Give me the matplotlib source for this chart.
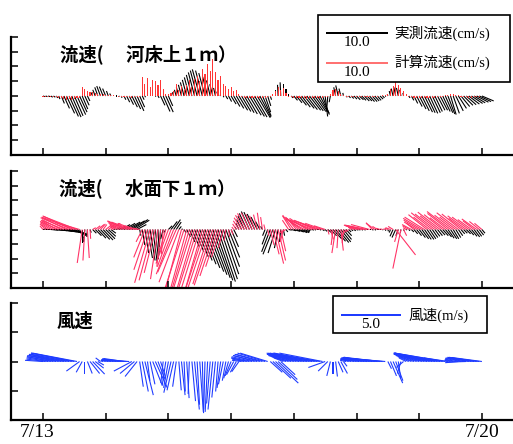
import numpy as np
import matplotlib
matplotlib.use("Agg")
import matplotlib.pyplot as plt
from matplotlib.patches import Rectangle
import matplotlib.transforms as mtransforms

# ---------------- data (hourly, 7/13 00:00 -> 7/20 00:00) ----------------
hours = list(range(0, 169))
day_ticks = [0, 24, 48, 72, 96, 120, 144, 168]
day_labels = ["7/13", "", "", "", "", "", "", "7/20"]

# panel 1 : measured current 1 m above bed (cm/s)
bed_obs_u = [
    0.3, 0.3, 0.3, 0.3, 0.3, 0.3,
    0.2, 0.5, 0.9, 1.3, 1.5, 1.5, 1.4, 1.4, 1.2, 0.9, 0.7, 0.4,
    -0.1, -0.3, -0.4, -0.5, -0.6, -0.6, -0.5, -0.3, -0.2,
    0.0, 0.1, 0.1,
    0.1, 0.3, 0.5, 0.7, 0.9, 1.0, 1.1, 0.8,
    0.3, 0.1, 0.0, 0.0, 0.0, 0.1, 0.2,
    0.7, 1.1, 1.2, 0.7,
    -0.1, -0.2, -0.3, -0.4, -0.5, -0.6, -0.7, -0.8, -0.9, -1.0, -1.1, -1.2, -1.1, -1.0, -0.8, -0.6, -0.5, -0.3, -0.2, -0.1,
    0.1, 0.3, 0.5, 0.8, 1.0, 1.2, 1.4, 1.5, 1.6, 1.7, 1.9, 2.0, 2.0, 2.1, 1.8, 1.4, 0.9, 0.5, 0.2,
    0.0, 0.0, -0.1, -0.1, 0.0, 0.0, 0.0,
    0.3, 0.6, 0.9, 1.2, 1.4, 1.6, 1.7, 1.8, 1.8, 1.8, 1.7, 1.5, 1.1, 0.4, -0.2, -0.2,
    -0.1, -0.3, -0.4, -0.3, -0.1,
    0.2, 0.3, 0.4, 0.5, 0.6, 0.7, 0.7, 0.8, 0.8, 0.8, 0.8, 0.7, 0.6, 0.5, 0.3, 0.1,
    -0.1, -0.2, -0.3, -0.3, -0.3, -0.2, -0.1, 0.0,
    0.2, 0.4, 0.6, 0.9, 1.1, 1.2, 1.3, 1.3, 1.3, 1.3, 1.2, 1.2, 1.2, 1.2, 1.2, 1.1, 0.9, 1.0, 1.2, 1.3, 1.4, 1.5, 1.6, 1.7, 1.8, 1.8, 1.9, 1.9, 1.9,
]
bed_obs_v = [
    -0.1, -0.1, -0.1, -0.2, -0.2, -0.3,
    -0.5, -1.2, -2.0, -2.8, -3.3, -3.4, -3.2, -3.0, -2.6, -2.1, -1.5, -0.8,
    0.2, 0.6, 1.0, 1.4, 1.6, 1.5, 1.2, 0.8, 0.4,
    0.1, 0.0, -0.1,
    -0.3, -0.6, -1.0, -1.4, -1.8, -2.1, -2.4, -1.8,
    -0.6, -0.2, 0.0, 0.0, 0.0, -0.1, -0.3,
    -1.5, -2.5, -2.6, -1.6,
    0.3, 0.6, 1.0, 1.4, 1.8, 2.2, 2.6, 3.0, 3.4, 3.8, 4.1, 4.3, 4.1, 3.7, 3.1, 2.5, 1.9, 1.3, 0.7, 0.2,
    -0.2, -0.5, -0.9, -1.3, -1.7, -2.0, -2.3, -2.5, -2.7, -2.9, -3.1, -3.3, -3.4, -3.5, -3.4, -3.2, -2.6, -1.6, -0.6,
    0.4, 1.0, 1.8, 2.2, 2.0, 1.2, 0.4,
    -0.3, -0.7, -1.1, -1.5, -1.8, -2.0, -2.2, -2.3, -2.4, -2.5, -2.6, -2.8, -3.0, -3.3, -2.5, -1.0,
    0.6, 1.4, 1.7, 1.2, 0.5,
    -0.2, -0.3, -0.4, -0.5, -0.6, -0.6, -0.7, -0.8, -0.8, -0.9, -0.9, -0.8, -0.7, -0.5, -0.3, -0.1,
    0.3, 0.8, 1.2, 1.4, 1.3, 1.0, 0.5, 0.1,
    -0.3, -0.7, -1.2, -1.7, -2.1, -2.4, -2.6, -2.7, -2.8, -2.7, -2.5, -2.3, -2.3, -2.5, -2.7, -2.9, -3.0, -2.8, -2.4, -2.0, -1.7, -1.5, -1.4, -1.3, -1.2, -1.1, -1.0, -0.9, -0.8,
]

# panel 1 : computed current 1 m above bed (cm/s) - drawn as vertical sticks
bed_calc_v = [
    -0.1, -0.1, -0.1, -0.1, -0.2, -0.2,
    -0.3, -0.4, -0.5, -0.6, -0.5, -0.6, -0.5, -0.4, -0.3,
    1.4, 1.2, 0.8, 0.6, 0.7,
    0.5, 0.4, 0.3, 0.3, 0.2, 0.2, 0.1, 0.1,
    0.0, -0.1, -0.1, -0.2, -0.2, -0.2, -0.3, -0.2, -0.2, -0.1,
    3.0, 2.0, 2.9, 1.5, 2.6, 2.4, 1.8, 2.5, 1.2,
    0.4, 0.3, 0.5,
    0.8, 2.0, 1.0, 1.6, 1.2, 1.8, 2.6, 1.5, 2.8, 3.3, 2.4, 4.3, 3.5, 5.1, 4.0, 6.0, 3.8, 2.6, 3.2, 2.0, 1.6, 1.2, 1.5, 0.8, 1.0, 0.4,
    -0.2, -0.3, -0.3, -0.4, -0.4, -0.4, -0.4, -0.4, -0.3, -0.3, -0.2, -0.1,
    0.3, 0.8, 1.4, 1.0, 1.3, 0.5,
    -0.1, -0.2, -0.3, -0.3, -0.4, -0.4, -0.4, -0.5, -0.4, -0.4, -0.4, -0.3, -0.3, -0.3, -0.2, -0.1,
    0.3, 0.9, 1.1, 0.8, 0.4, 0.2,
    -0.1, -0.1, -0.1, -0.1, -0.1, -0.1, -0.1, -0.1, -0.1, -0.1, -0.1, -0.1, -0.1, 0.0, 0.1, 0.2,
    0.4, 1.2, 1.6, 2.2, 1.8, 1.3, 0.8, 0.3,
    -0.1, -0.2, -0.3, -0.3, -0.4, -0.4, -0.4, -0.3, -0.3, -0.3, -0.3, -0.2, -0.2, -0.1, 0.1, 0.2, 0.3, 0.3, 0.2, 0.1, -0.1, -0.2, -0.2, -0.3, -0.3, -0.2, -0.2, -0.1, 0.0,
]

# panel 2 : measured current 1 m below surface (cm/s)
sfc_obs_u = [
    0.5, 0.8, 1.0, 1.2, 1.5, 1.8,
    2.2, 2.5, 2.8, 3.0, 2.8, 2.4, 2.0, 1.5,
    0.6, 0.0, -0.2, -0.1, 0.2,
    0.6, 1.0, 1.3, 1.5, 1.6, 1.5, 1.2, 0.8,
    0.3, 0.6, 1.0, 1.4, 1.8, 2.2, 2.5, 2.6, 2.4, 1.5,
    0.2, 0.4, 0.6, 0.8, 0.8, 0.7, 0.5, 0.2, -0.2, -0.4, -0.3,
    0.6, 1.0, 1.1, 0.8, 0.4, 0.2,
    0.3, 0.6, 0.9, 1.2, 1.5, 1.8, 2.0, 2.2, 2.4, 2.6, 2.7, 2.8, 2.8, 2.8, 2.7, 2.5, 2.2, 1.8, 1.2, 0.6,
    -0.2, -0.5, -0.8, -1.0, -1.2, -1.3, -1.3, -1.2, -1.0, -0.7, -0.3,
    -0.4, -0.9, -1.4, -1.6, -1.2, -0.6, -0.2, 0.2, 0.3,
    0.5, 0.8, 1.0, 1.2, 1.3, 1.2, 0.9, 0.5,
    0.3, 0.3, 0.2, 0.2, 0.2, 0.3, 0.3,
    0.6, 1.0, 1.4, 1.6, 1.7, 1.6, 1.3, 0.9, 0.4,
    0.3, 0.3, 0.3, 0.2, 0.2, 0.2, 0.2, 0.2, 0.2, 0.2, 0.2, 0.2, 0.1, 0.1, 0.1,
    -0.2, -0.5, -0.6, -0.4, -0.1, 0.1,
    0.1, 0.2, 0.4, 0.6, 0.8, 1.0, 1.1, 1.1, 1.1, 1.0, 0.9, 0.8, 0.8, 0.8, 0.9, 1.0, 1.0, 1.0, 0.9, 0.8, 0.7, 0.6, 0.6, 0.7, 0.8, 0.9, 0.9, 0.8, 0.7, 0.5,
]
sfc_obs_v = [
    0.1, 0.0, 0.0, -0.1, -0.1, -0.2,
    -0.3, -0.4, -0.5, -0.6, -0.7, -0.8, -0.9, -1.0,
    -1.4, -2.2, -2.0, -1.2, -0.5,
    -0.6, -1.0, -1.4, -1.6, -1.7, -1.5, -1.1, -0.6,
    0.1, 0.3, 0.5, 0.8, 1.0, 1.2, 1.4, 1.6, 1.5, 0.8,
    -1.0, -2.5, -3.8, -4.6, -5.0, -5.1, -4.8, -4.0, -2.8, -1.5, -0.5,
    0.6, 1.3, 1.6, 1.2, 0.5, 0.1,
    -0.5, -1.2, -2.0, -2.8, -3.6, -4.4, -5.0, -5.6, -6.2, -6.8, -7.3, -7.8, -8.2, -8.4, -8.0, -7.2, -6.0, -4.5, -2.8, -1.2,
    0.4, 1.0, 1.6, 2.2, 2.6, 2.9, 2.8, 2.5, 2.0, 1.3, 0.5,
    -1.0, -2.4, -3.6, -4.0, -3.8, -3.0, -2.0, -1.0, -0.4,
    -0.1, -0.2, -0.3, -0.4, -0.5, -0.5, -0.4, -0.2,
    -0.1, -0.1, -0.1, 0.0, -0.1, -0.2, -0.3,
    -0.5, -1.0, -1.5, -1.9, -2.1, -2.0, -1.6, -1.0, -0.4,
    -0.2, -0.2, -0.1, -0.1, -0.1, -0.1, 0.0, 0.0, -0.1, -0.1, 0.0, 0.0, -0.1, -0.2, -0.3,
    -0.5, -1.1, -1.3, -1.0, -0.5, -0.2,
    -0.1, -0.2, -0.4, -0.7, -1.0, -1.3, -1.5, -1.6, -1.6, -1.5, -1.3, -1.1, -1.0, -0.9, -1.0, -1.2, -1.4, -1.5, -1.5, -1.3, -1.0, -0.7, -0.6, -0.7, -0.9, -1.1, -1.2, -1.1, -0.9, -0.6,
]

# panel 2 : computed current 1 m below surface (cm/s)
sfc_calc_u = [
    -0.5, -0.9, -1.1, -1.7, -2.0, -2.3, -3.0, -3.1, -3.7, -3.9, -4.6, -4.7, -5.3, -5.4, -3.8,
    -0.8, -0.3, 0.3, 0.1,
    0.5, 0.8, 1.0, 0.8, 0.6, 0.9, 1.2, 1.5,
    -0.5, -1.0, -1.5, -2.1, -2.4, -3.1, -3.5, -3.3, -2.7, -2.0, -1.0,
    -1.0, -1.8, -2.2, -2.5, -2.2, -1.8, -1.2, -0.6, -0.3, -1.0, -2.0,
    -2.2, -2.8, -3.0, -3.2, -2.6, -3.4, -3.0, -2.8, -3.6, -3.2, -3.8, -3.5, -3.0, -3.6, -3.2, -2.8, -3.0, -2.5, -2.0, -1.5, -0.8, -0.3, 0.2, 0.3,
    -0.3, -0.6, -0.9, -1.2, -1.4, -1.5, -1.3, -1.0, -0.8, -0.6, -0.4, -0.3, -0.2,
    0.2, 0.6, 1.0, 1.3, 1.2, 0.8, -0.5, -1.0,
    -1.0, -1.4, -1.8, -1.5, -2.2, -2.6, -3.0, -2.8, -3.4, -3.6, -3.2, -3.8, -3.5, -2.8, -1.8,
    0.2, 0.5, -0.3, -0.6, -0.2, 0.4, -0.2, -0.8, -0.5,
    -0.5, -1.0, -1.6, -2.2, -2.8, -3.3, -3.5, -3.0, -1.0, -1.4, -0.8,
    -0.6, -0.4, -0.3, -0.5, -0.8,
    -0.8, 3.2, -0.6, -1.3, 0.5,
    -0.5, -1.0, -1.5, -1.2, -2.0, -2.5, -3.0, -3.2,
    -3.0, -2.6, -3.4, -3.2, -2.8, -3.6, -3.0, -2.5, -3.3, -3.8, -3.0, -2.6, -3.5, -3.1, -2.4, -3.0, -2.7, -2.2, -1.8, -2.4, -1.6, -1.2,
]
sfc_calc_v = [
    0.6, 0.9, 0.8, 1.1, 1.2, 1.4, 1.3, 1.6, 1.5, 1.9, 1.9, 2.2, 2.0, 2.1, 1.1,
    -5.4, -5.0, -4.6, -1.5,
    0.3, 0.6, 0.8, 0.9, 0.8, 0.7, 0.9, 1.0,
    0.5, 0.7, 0.9, 1.1, 1.2, 1.4, 1.3, 1.2, 1.0, 0.6, 0.2,
    -2.0, -4.5, -6.5, -8.6, -8.2, -7.0, -8.0, -6.0, -4.0, -3.5, -5.5,
    -6.0, -7.2, -6.9, -8.5, -9.8, -10.5, -11.0, -9.6, -11.5, -10.8, -12.0, -11.2, -10.5, -11.0, -9.5, -8.8, -9.0, -7.5, -6.0, -4.5, -3.0, -1.8, -1.2, -0.8,
    0.4, 0.9, 1.4, 1.9, 2.3, 2.6, 2.7, 2.5, 2.2, 2.4, 2.7, 2.0, 0.8,
    -1.0, -2.5, -4.0, -5.5, -5.0, -3.5, -2.0, -0.5,
    1.5, 2.2, 2.3, 1.8, 2.0, 1.9, 1.7, 1.8, 1.6, 1.5, 1.4, 1.5, 1.2, 1.0, 0.6,
    -0.8, -1.6, -2.5, -3.8, -3.0, -3.4, -2.2, -1.2, -0.4,
    0.4, 0.5, 0.6, 0.6, 0.7, 0.7, 0.7, 0.8, 1.1, 1.0, 0.5,
    0.2, 0.1, 0.1, 0.2, 0.3,
    0.5, -4.1, -2.0, -6.3, -1.0,
    0.3, 0.6, 0.8, 1.0, 1.2, 1.5, 1.8, 2.0,
    2.4, 2.0, 2.7, 2.5, 2.2, 2.8, 2.4, 1.9, 2.6, 2.9, 2.3, 2.0, 2.7, 2.5, 1.8, 2.2, 2.0, 1.6, 1.4, 1.7, 1.3, 1.0,
]

# panel 3 : wind (m/s)
wind_u = [
    -1.5, -1.6, -1.8, -2.0, -2.2, -2.4, -2.5, -2.7, -2.9, -3.0, -3.2, -3.4, -3.6, -3.7,
    -1.1, -0.5, 0.0, 0.4, 0.8, 1.0, 0.7, 0.5, -0.4,
    -0.2, -0.4, -0.5, -0.8, -1.0, -1.1, -1.4, -1.6, -1.7, -2.0, -2.2,
    -1.5, -1.2, -1.0, 0.3, 0.5, 0.7, 0.2, 0.4, 0.8, 1.0, 0.6, 0.4, -0.2, -0.3, -0.4, -0.6, -0.55, -0.3,
    0.2, 0.3, 0.1, 0.2, -0.1, 0.3, 0.4, 0.2, 0.3, 0.1, -0.1, -0.2, -0.3, -0.4, -0.3, -0.2, -0.3, -0.4,
    -0.3, -0.4, -0.5, -0.6, -0.5, -0.6,
    -0.8, -1.0, -1.3, -1.5, -1.7, -1.8, -2.0, -2.1, -2.2, -2.3, -2.3,
    1.0, 1.5, 1.9, 1.6, 1.2,
    -0.8, -1.2, -1.6, -1.9, -2.2, -2.4, -2.7, -2.9, -3.0, -3.2, -3.3, -3.4, -3.5, -3.6, -3.6, -3.6,
    -1.4, -0.8, -0.3, 0.0, 0.15, 0.4, 0.55, 0.3,
    -0.5, -0.7, -0.9, -1.1, -1.3, -1.4, -1.6, -1.8, -2.0, -2.2, -2.4, -2.6, -2.8, -3.0, -3.3, -3.6,
    0.3, 0.5, 0.8, 0.6, 0.2, -0.3, -0.6,
    -0.6, -0.9, -1.2, -1.5, -1.8, -2.0, -2.3, -2.5, -2.8, -3.0, -3.2, -3.4, -3.6, -3.8, -4.0, -4.2, -2.0,
    -0.5, -0.7, -0.9, -1.1, -1.3, -1.5, -1.7, -1.8, -2.0, -2.1, -2.3, -2.4, -2.5,
]
wind_v = [
    0.1, 0.2, 0.3, 0.4, 0.4, 0.5, 0.5, 0.6, 0.5, 0.6, 0.6, 0.7, 0.7, 0.7,
    -0.8, -0.9, -1.0, -1.0, -1.0, -1.05, -0.55, -0.3, 0.3,
    0.05, 0.1, 0.1, 0.15, 0.15, 0.2, 0.2, 0.2, 0.25, 0.2, 0.1,
    -0.8, -1.0, -1.25, -2.1, -2.5, -2.8, -1.6, -1.9, -2.0, -2.2, -1.5, -1.25, -1.8, -2.0, -2.2, -2.6, -2.4, -2.1,
    -2.4, -2.8, -2.5, -3.05, -2.7, -3.3, -4.0, -3.6, -4.2, -4.3, -4.0, -4.2, -3.5, -4.0, -3.0, -2.5, -2.2, -1.9,
    -1.6, -1.4, -1.2, -1.1, -0.9, -0.85,
    0.1, 0.2, 0.3, 0.3, 0.4, 0.5, 0.5, 0.6, 0.6, 0.7, 0.7,
    -0.9, -1.4, -1.8, -1.5, -1.1,
    0.3, 0.4, 0.5, 0.5, 0.6, 0.6, 0.7, 0.6, 0.7, 0.6, 0.7, 0.6, 0.7, 0.7, 0.6, 0.7,
    -0.5, -0.8, -1.2, -1.0, -1.25, -0.9, -1.0, -0.4,
    0.1, 0.2, 0.2, 0.25, 0.3, 0.2, 0.3, 0.3, 0.25, 0.3, 0.35, 0.3, 0.3, 0.35, 0.3, 0.3,
    -0.6, -1.2, -1.8, -1.6, -1.4, -1.0, -0.5,
    0.3, 0.4, 0.5, 0.5, 0.6, 0.6, 0.7, 0.6, 0.7, 0.6, 0.7, 0.6, 0.7, 0.6, 0.7, 0.7, 0.3,
    0.1, 0.15, 0.2, -0.1, 0.25, 0.3, -0.05, 0.3, 0.35, 0.3, 0.35, 0.3, 0.33,
]

# ---------------- figure ----------------
W, H = 513, 444
fig = plt.figure(figsize=(W / 100, H / 100), dpi=100)

CJK = ["Noto Sans CJK JP", "DejaVu Sans"]
SERIF_CJK = ["Liberation Serif", "Noto Sans CJK JP"]

BLACK = "#000000"
RED1 = "#ff3535"
RED2 = "#ff3366"
BLUE = "#1f3cff"

CUR_SCALE = 10.0 / 0.62   # 10 cm/s -> 0.62 inch
WIND_SCALE = 5.0 / 0.60   # 5 m/s -> 0.60 inch

def px_axes(top, bottom):
    left = 11 / W
    return [left, 1 - bottom / H, 1 - left, (bottom - top) / H]

def style_axes(ax, ylim, show_labels=False):
    ax.set_xlim(-12.25, 179.9)
    ax.set_ylim(-ylim, ylim)
    ax.set_yticks(np.arange(-ylim, ylim + 1, 1))
    ax.set_yticklabels([])
    ax.set_xticks(day_ticks)
    if show_labels:
        ax.set_xticklabels(day_labels, fontfamily="Liberation Serif", fontsize=14)
    else:
        ax.set_xticklabels([])
    for s in ("top", "right"):
        ax.spines[s].set_visible(False)
    for s in ("left", "bottom"):
        ax.spines[s].set_linewidth(1.6)
    ax.tick_params(axis="y", direction="in", length=4.8, width=1.1)
    ax.tick_params(axis="x", direction="in", length=4.8, width=1.1, pad=3.0)

def sticks(ax, u, v, color, scale):
    t = np.asarray(hours, dtype=float)
    return ax.quiver(t, np.zeros_like(t), np.asarray(u, float), np.asarray(v, float),
                     color=color, angles="uv", scale_units="inches", scale=scale,
                     units="inches", width=0.011, headwidth=0, headlength=0,
                     headaxislength=0, minlength=0, pivot="tail")

# panel 1
ax1 = fig.add_axes(px_axes(37, 155))
style_axes(ax1, 4)
q1 = sticks(ax1, bed_obs_u, bed_obs_v, BLACK, CUR_SCALE)
q1c = sticks(ax1, [0.0] * len(bed_calc_v), bed_calc_v, RED1, CUR_SCALE)

# panel 2
ax2 = fig.add_axes(px_axes(171, 288))
style_axes(ax2, 4)
sticks(ax2, sfc_obs_u, sfc_obs_v, BLACK, CUR_SCALE)
sticks(ax2, sfc_calc_u, sfc_calc_v, RED2, CUR_SCALE)

# panel 3
ax3 = fig.add_axes(px_axes(303, 420))
style_axes(ax3, 2, show_labels=True)
q3 = sticks(ax3, wind_u, wind_v, BLUE, WIND_SCALE)
lab = ax3.get_xticklabels()[0]
lab.set_transform(lab.get_transform() + mtransforms.ScaledTranslation(-0.06, 0, fig.dpi_scale_trans))

# titles
def fx(x): return x / W
def fy(y): return 1 - y / H
fig.text(fx(60), fy(54), "流速(\u3000 河床上１ｍ）", family=CJK, fontweight="bold",
         fontsize=13.2, va="center", ha="left")
fig.text(fx(59), fy(188), "流速(\u3000 水面下１ｍ）", family=CJK, fontweight="bold",
         fontsize=13.2, va="center", ha="left")
fig.text(fx(57), fy(321), "風速", family=CJK, fontweight="bold",
         fontsize=13.2, va="center", ha="left")

# legends
fig.add_artist(Rectangle((fx(318), fy(82)), (510 - 318) / W, (82 - 15) / H,
                         transform=fig.transFigure, fill=False, lw=1.2, ec="black"))
fig.add_artist(Rectangle((fx(333), fy(333)), (487 - 333) / W, (333 - 296) / H,
                         transform=fig.transFigure, fill=False, lw=1.2, ec="black"))

kp = {"family": "Liberation Serif", "size": 11}
ax1.quiverkey(q1, fx(356.5), fy(33), 10.0, "10.0", coordinates="figure",
              labelpos="S", labelsep=0.035, color=BLACK, fontproperties=kp)
ax1.quiverkey(q1c, fx(356.5), fy(63), 10.0, "10.0", coordinates="figure",
              labelpos="S", labelsep=0.035, color="#ff7272", fontproperties=kp)
ax3.quiverkey(q3, fx(371), fy(315), 5.0, "5.0", coordinates="figure",
              labelpos="S", labelsep=0.035, color=BLUE, fontproperties=kp)

fig.text(fx(394), fy(33), "実測流速(cm/s)", family=SERIF_CJK, fontsize=10.5, va="center", ha="left")
fig.text(fx(394), fy(62), "計算流速(cm/s)", family=SERIF_CJK, fontsize=10.5, va="center", ha="left")
fig.text(fx(409), fy(315), "風速(m/s)", family=SERIF_CJK, fontsize=10.5, va="center", ha="left")

fig.savefig("out.png", dpi=100)
